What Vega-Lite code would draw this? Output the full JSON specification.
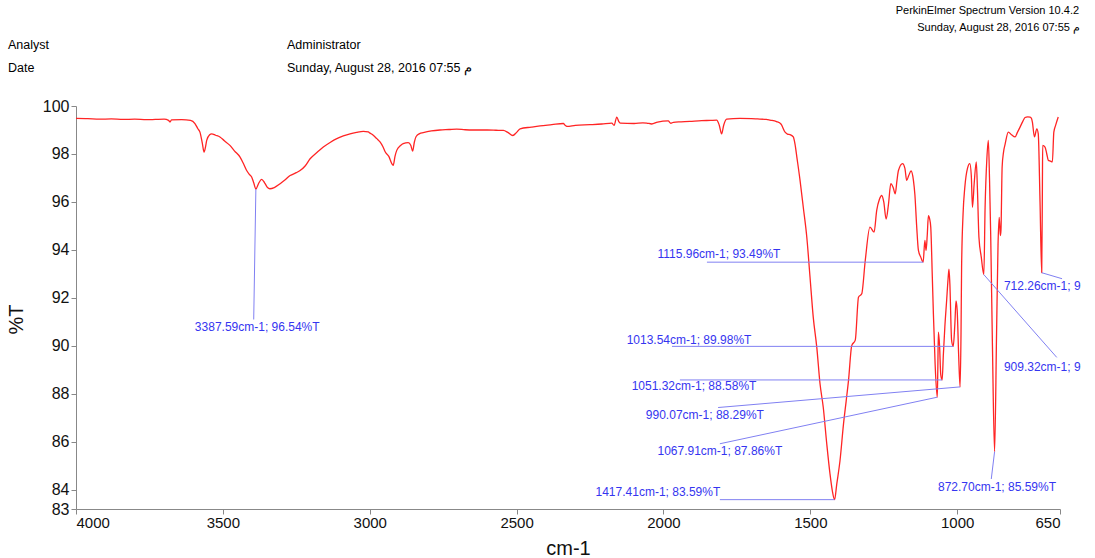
{
  "$schema": "https://vega.github.io/schema/vega-lite/v6.json",
  "width": 984,
  "height": 403,
  "autosize": {"type": "none"},
  "padding": {"left": 76, "top": 106, "right": 35, "bottom": 49},
  "background": "white",
  "config": {"font": "Liberation Sans", "view": {"stroke": null}},
  "datasets": {
    "spectrum": [
      {"wn":4000,"T":99.48},{"wn":3960,"T":99.47},{"wn":3920,"T":99.45},{"wn":3880,"T":99.46},{"wn":3840,"T":99.44},{"wn":3800,"T":99.45},{"wn":3760,"T":99.43},{"wn":3730,"T":99.44},{"wn":3700,"T":99.45},{"wn":3685,"T":99.40},{"wn":3680,"T":99.33},{"wn":3675,"T":99.42},{"wn":3640,"T":99.43},{"wn":3610,"T":99.40},{"wn":3595,"T":99.27},{"wn":3585,"T":99.05},{"wn":3578,"T":98.91},{"wn":3570,"T":98.45},{"wn":3564,"T":98.08},{"wn":3559,"T":98.30},{"wn":3555,"T":98.57},{"wn":3545,"T":98.80},{"wn":3538,"T":98.84},{"wn":3525,"T":98.78},{"wn":3510,"T":98.71},{"wn":3495,"T":98.55},{"wn":3476,"T":98.36},{"wn":3460,"T":98.12},{"wn":3442,"T":97.88},{"wn":3430,"T":97.60},{"wn":3419,"T":97.31},{"wn":3410,"T":97.15},{"wn":3402,"T":97.04},{"wn":3395,"T":96.80},{"wn":3387.59,"T":96.54},{"wn":3378,"T":96.78},{"wn":3368,"T":96.94},{"wn":3358,"T":96.80},{"wn":3348,"T":96.60},{"wn":3340,"T":96.55},{"wn":3325,"T":96.60},{"wn":3305,"T":96.76},{"wn":3290,"T":96.90},{"wn":3271,"T":97.10},{"wn":3250,"T":97.22},{"wn":3237,"T":97.31},{"wn":3220,"T":97.50},{"wn":3203,"T":97.80},{"wn":3180,"T":98.06},{"wn":3158,"T":98.29},{"wn":3135,"T":98.48},{"wn":3112,"T":98.64},{"wn":3090,"T":98.75},{"wn":3067,"T":98.84},{"wn":3045,"T":98.90},{"wn":3022,"T":98.94},{"wn":3005,"T":98.92},{"wn":2999,"T":98.87},{"wn":2990,"T":98.80},{"wn":2976,"T":98.64},{"wn":2965,"T":98.50},{"wn":2955,"T":98.30},{"wn":2947,"T":98.08},{"wn":2935,"T":97.90},{"wn":2925,"T":97.60},{"wn":2920,"T":97.53},{"wn":2914,"T":97.90},{"wn":2908,"T":98.15},{"wn":2895,"T":98.35},{"wn":2886,"T":98.43},{"wn":2869,"T":98.47},{"wn":2860,"T":98.35},{"wn":2854,"T":98.12},{"wn":2848,"T":98.50},{"wn":2842,"T":98.73},{"wn":2830,"T":98.85},{"wn":2818,"T":98.89},{"wn":2790,"T":98.96},{"wn":2761,"T":99.00},{"wn":2730,"T":99.02},{"wn":2704,"T":99.04},{"wn":2675,"T":99.01},{"wn":2647,"T":99.00},{"wn":2600,"T":99.00},{"wn":2570,"T":98.99},{"wn":2545,"T":98.98},{"wn":2530,"T":98.90},{"wn":2513,"T":98.77},{"wn":2500,"T":98.90},{"wn":2488,"T":99.05},{"wn":2450,"T":99.12},{"wn":2420,"T":99.17},{"wn":2380,"T":99.22},{"wn":2341,"T":99.27},{"wn":2335,"T":99.20},{"wn":2329,"T":99.15},{"wn":2300,"T":99.19},{"wn":2250,"T":99.22},{"wn":2210,"T":99.25},{"wn":2176,"T":99.29},{"wn":2168,"T":99.19},{"wn":2159,"T":99.54},{"wn":2152,"T":99.35},{"wn":2147,"T":99.29},{"wn":2100,"T":99.27},{"wn":2070,"T":99.30},{"wn":2057,"T":99.29},{"wn":2040,"T":99.25},{"wn":2020,"T":99.33},{"wn":1984,"T":99.38},{"wn":1975,"T":99.28},{"wn":1966,"T":99.32},{"wn":1940,"T":99.34},{"wn":1910,"T":99.36},{"wn":1870,"T":99.39},{"wn":1840,"T":99.40},{"wn":1819,"T":99.41},{"wn":1810,"T":99.20},{"wn":1802,"T":98.84},{"wn":1795,"T":99.20},{"wn":1785,"T":99.45},{"wn":1740,"T":99.48},{"wn":1700,"T":99.47},{"wn":1680,"T":99.46},{"wn":1650,"T":99.44},{"wn":1637,"T":99.41},{"wn":1615,"T":99.35},{"wn":1600,"T":99.25},{"wn":1586,"T":98.91},{"wn":1578,"T":98.83},{"wn":1569,"T":98.81},{"wn":1558,"T":98.71},{"wn":1552,"T":98.40},{"wn":1546,"T":97.88},{"wn":1535,"T":96.90},{"wn":1524,"T":95.78},{"wn":1512,"T":94.53},{"wn":1501,"T":92.86},{"wn":1490,"T":91.19},{"wn":1478,"T":89.94},{"wn":1467,"T":88.42},{"wn":1456,"T":87.44},{"wn":1444,"T":85.91},{"wn":1433,"T":84.66},{"wn":1425,"T":83.95},{"wn":1417.41,"T":83.59},{"wn":1410,"T":84.24},{"wn":1399,"T":85.21},{"wn":1387,"T":86.75},{"wn":1378,"T":87.70},{"wn":1370,"T":88.56},{"wn":1359,"T":90.01},{"wn":1347,"T":90.24},{"wn":1336,"T":92.03},{"wn":1325,"T":92.17},{"wn":1313,"T":93.56},{"wn":1297,"T":94.95},{"wn":1283,"T":94.74},{"wn":1274,"T":95.65},{"wn":1265,"T":96.10},{"wn":1257,"T":96.27},{"wn":1250,"T":96.00},{"wn":1242,"T":95.29},{"wn":1234,"T":95.90},{"wn":1226,"T":96.76},{"wn":1218,"T":96.60},{"wn":1211,"T":96.34},{"wn":1205,"T":96.90},{"wn":1200,"T":97.31},{"wn":1186,"T":97.60},{"wn":1178,"T":97.40},{"wn":1172,"T":96.90},{"wn":1165,"T":97.10},{"wn":1157,"T":97.29},{"wn":1149,"T":96.90},{"wn":1144,"T":96.30},{"wn":1138,"T":95.00},{"wn":1132,"T":93.98},{"wn":1124,"T":93.70},{"wn":1115.96,"T":93.49},{"wn":1110,"T":94.40},{"wn":1106,"T":93.98},{"wn":1102,"T":94.60},{"wn":1098,"T":95.43},{"wn":1094,"T":95.30},{"wn":1090,"T":94.95},{"wn":1085,"T":93.00},{"wn":1081,"T":91.33},{"wn":1075,"T":89.20},{"wn":1067.91,"T":87.86},{"wn":1066,"T":89.00},{"wn":1064,"T":90.57},{"wn":1060,"T":90.00},{"wn":1056,"T":88.80},{"wn":1051.32,"T":88.58},{"wn":1047,"T":89.66},{"wn":1042,"T":90.80},{"wn":1036,"T":91.88},{"wn":1031,"T":92.80},{"wn":1028,"T":93.20},{"wn":1025,"T":92.60},{"wn":1019,"T":90.23},{"wn":1013.54,"T":89.98},{"wn":1008,"T":90.90},{"wn":1004,"T":91.88},{"wn":1000,"T":91.47},{"wn":995,"T":89.60},{"wn":990.07,"T":88.29},{"wn":987,"T":90.50},{"wn":985,"T":93.28},{"wn":980,"T":95.50},{"wn":974,"T":96.62},{"wn":965,"T":97.40},{"wn":957,"T":97.60},{"wn":952,"T":97.10},{"wn":948,"T":95.78},{"wn":942,"T":96.80},{"wn":935,"T":97.67},{"wn":931,"T":96.50},{"wn":926,"T":94.53},{"wn":918,"T":93.70},{"wn":909.32,"T":92.97},{"wn":905,"T":95.78},{"wn":899,"T":97.80},{"wn":894,"T":98.57},{"wn":890,"T":97.00},{"wn":886,"T":94.67},{"wn":880,"T":90.00},{"wn":872.70,"T":85.59},{"wn":866,"T":90.50},{"wn":861,"T":94.20},{"wn":857,"T":95.36},{"wn":853,"T":94.60},{"wn":851,"T":94.81},{"wn":847,"T":97.45},{"wn":842,"T":98.10},{"wn":837,"T":98.40},{"wn":826,"T":98.91},{"wn":815,"T":98.80},{"wn":803,"T":98.71},{"wn":795,"T":98.90},{"wn":786,"T":99.12},{"wn":777,"T":99.35},{"wn":769,"T":99.52},{"wn":760,"T":99.55},{"wn":752,"T":99.54},{"wn":747,"T":99.48},{"wn":744,"T":99.33},{"wn":737,"T":98.71},{"wn":729,"T":99.05},{"wn":724,"T":98.84},{"wn":718,"T":96.00},{"wn":712.26,"T":93.05},{"wn":710,"T":96.50},{"wn":709,"T":98.36},{"wn":701,"T":98.29},{"wn":695,"T":98.00},{"wn":690,"T":97.74},{"wn":683,"T":97.70},{"wn":676,"T":97.67},{"wn":671,"T":98.91},{"wn":665,"T":99.19},{"wn":656,"T":99.54}
    ],
    "leaders": [
      {"wn":3387.59,"T":96.54,"wn2":3395,"T2":91.1},
      {"wn":1852,"T":93.49,"wn2":1115.96,"T2":93.49},
      {"wn":1971,"T":89.98,"wn2":1013.54,"T2":89.98},
      {"wn":1944,"T":88.58,"wn2":1051.32,"T2":88.58},
      {"wn":1814,"T":87.43,"wn2":990.07,"T2":88.29},
      {"wn":1808,"T":85.92,"wn2":1067.91,"T2":87.86},
      {"wn":1808,"T":83.59,"wn2":1417.41,"T2":83.59},
      {"wn":872.70,"T":85.59,"wn2":884,"T2":84.45},
      {"wn":909.32,"T":92.97,"wn2":661,"T2":89.52},
      {"wn":712.26,"T":93.05,"wn2":643,"T2":92.8}
    ],
    "labels": [
      {"wn":3383,"T":90.78,"text":"3387.59cm-1; 96.54%T"},
      {"wn":1811,"T":93.81,"text":"1115.96cm-1; 93.49%T"},
      {"wn":1913,"T":90.26,"text":"1013.54cm-1; 89.98%T"},
      {"wn":1896,"T":88.34,"text":"1051.32cm-1; 88.58%T"},
      {"wn":1859,"T":87.13,"text":"990.07cm-1; 88.29%T"},
      {"wn":1808,"T":85.63,"text":"1067.91cm-1; 87.86%T"},
      {"wn":2019,"T":83.91,"text":"1417.41cm-1; 83.59%T"},
      {"wn":864.5,"T":84.13,"text":"872.70cm-1; 85.59%T"}
    ],
    "edgeLabels": [
      {"wn":841,"T":89.11,"text":"909.32cm-1; 92.97%T"},
      {"wn":841,"T":92.49,"text":"712.26cm-1; 93.05%T"}
    ],
    "headerLeft": [
      {"wn":4231.5,"T":102.53,"text":"Analyst"},
      {"wn":4231.5,"T":101.57,"text":"Date"},
      {"wn":3281.7,"T":102.53,"text":"Administrator"},
      {"wn":3281.7,"T":101.57,"text":"Sunday, August 28, 2016 07:55 م"}
    ],
    "headerRight": [
      {"wn":585,"T":103.95,"text":"PerkinElmer Spectrum Version 10.4.2"},
      {"wn":582,"T":103.24,"text":"Sunday, August 28, 2016 07:55 م"}
    ]
  },
  "encoding": {
    "x": {
      "field": "wn", "type": "quantitative",
      "scale": {"domain": [650, 4000], "reverse": true, "nice": false, "zero": false},
      "axis": {
        "values": [4000, 3500, 3000, 2500, 2000, 1500, 1000, 650],
        "format": "d", "grid": false,
        "labelFontSize": 15, "labelColor": "#111", "labelPadding": 1,
        "domainColor": "#888", "tickColor": "#888", "tickSize": 5,
        "title": "cm-1", "titleFontSize": 20, "titleFontWeight": "normal", "titleColor": "#111", "titlePadding": 8
      }
    },
    "y": {
      "field": "T", "type": "quantitative",
      "scale": {"domain": [83.2, 100], "nice": false, "zero": false},
      "axis": {
        "values": [83.2, 84, 86, 88, 90, 92, 94, 96, 98, 100],
        "labelExpr": "datum.value < 83.5 ? '83' : format(datum.value, 'd')",
        "labelOverlap": false, "grid": false,
        "labelFontSize": 16, "labelColor": "#111", "labelPadding": 2,
        "domainColor": "#888", "tickColor": "#888", "tickSize": 5,
        "title": "%T", "titleFontSize": 20, "titleFontWeight": "normal", "titleColor": "#111",
        "titleX": -60, "titleY": 213, "titleAngle": -90, "titleAlign": "center", "titleBaseline": "middle"
      }
    }
  },
  "layer": [
    {
      "data": {"name": "spectrum"},
      "mark": {"type": "line", "color": "#ff2424", "strokeWidth": 1.3, "interpolate": "monotone"}
    },
    {
      "data": {"name": "leaders"},
      "mark": {"type": "rule", "color": "#8080f2", "strokeWidth": 1},
      "encoding": {"x2": {"field": "wn2"}, "y2": {"field": "T2"}}
    },
    {
      "data": {"name": "labels"},
      "mark": {"type": "text", "color": "#3535f0", "fontSize": 12, "align": "center", "baseline": "middle"},
      "encoding": {"text": {"field": "text"}}
    },
    {
      "data": {"name": "edgeLabels"},
      "mark": {"type": "text", "color": "#3535f0", "fontSize": 12, "align": "left", "baseline": "middle", "limit": 79, "ellipsis": "\u200b"},
      "encoding": {"text": {"field": "text"}}
    },
    {
      "data": {"name": "headerLeft"},
      "mark": {"type": "text", "color": "#000", "fontSize": 12.5, "align": "left", "baseline": "middle"},
      "encoding": {"text": {"field": "text"}}
    },
    {
      "data": {"name": "headerRight"},
      "mark": {"type": "text", "color": "#000", "fontSize": 11, "align": "right", "baseline": "middle"},
      "encoding": {"text": {"field": "text"}}
    }
  ]
}
